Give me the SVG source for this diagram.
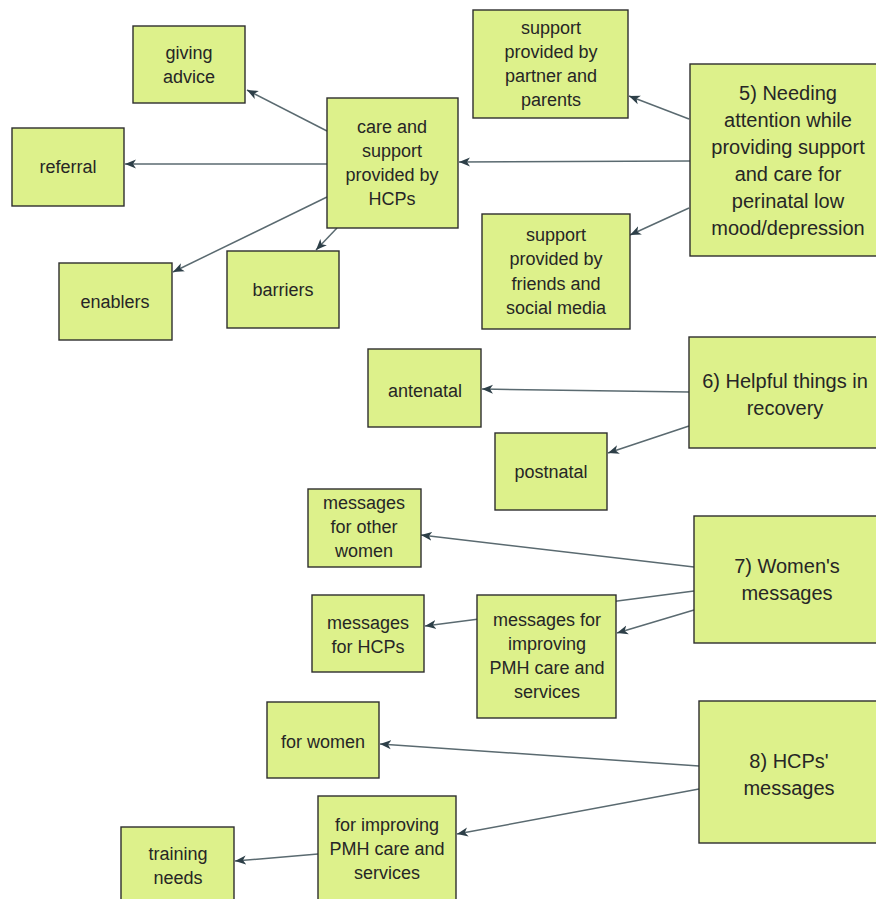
<svg xmlns="http://www.w3.org/2000/svg" width="876" height="899" viewBox="0 0 876 899">
  <style>
    .box { fill: #ddf18b; stroke: #2e2e2e; stroke-width: 1.4; }
    .t { font-family: "Liberation Sans", Arial, sans-serif; font-size: 18px; fill: #262626; text-anchor: middle; }
    .tl { font-size: 20px; }
    .c { stroke: #5a6a70; stroke-width: 1.5; fill: none; marker-end: url(#arr); }
  </style>
  <defs>
    <marker id="arr" markerUnits="userSpaceOnUse" markerWidth="12" markerHeight="10" refX="11" refY="5" orient="auto">
      <path d="M0,0.5 L11,5 L0,9.5 L3,5 z" fill="#2d3f48"/>
    </marker>
  </defs>
  <rect width="876" height="899" fill="#ffffff"/>

  <!-- connectors, drawn first so boxes sit on top -->
  <g id="connectors">
    <line class="c" x1="327" y1="131" x2="247" y2="90"/>
    <line class="c" x1="327" y1="164" x2="125" y2="164"/>
    <line class="c" x1="327" y1="197" x2="173" y2="272"/>
    <line class="c" x1="337" y1="228" x2="316" y2="250"/>
    <line class="c" x1="690" y1="161" x2="459" y2="162"/>
    <line class="c" x1="689" y1="119" x2="629" y2="96"/>
    <line class="c" x1="689" y1="208" x2="630" y2="235"/>
    <line class="c" x1="689" y1="392" x2="482" y2="389"/>
    <line class="c" x1="689" y1="426" x2="608" y2="453"/>
    <line class="c" x1="694" y1="567" x2="421" y2="535"/>
    <line class="c" x1="694" y1="591" x2="425" y2="626"/>
    <line class="c" x1="694" y1="610" x2="617" y2="633"/>
    <line class="c" x1="699" y1="766" x2="380" y2="744"/>
    <line class="c" x1="699" y1="789" x2="457" y2="834"/>
    <line class="c" x1="318" y1="854" x2="235" y2="861"/>
  </g>

  <g id="giving-advice">
    <rect class="box" x="133" y="26" width="112" height="77"/>
    <text class="t" x="189" y="59">giving</text>
    <text class="t" x="189" y="83">advice</text>
  </g>
  <g id="referral">
    <rect class="box" x="12" y="128" width="112" height="78"/>
    <text class="t" x="68" y="173">referral</text>
  </g>
  <g id="care-hcps">
    <rect class="box" x="327" y="98" width="131" height="130"/>
    <text class="t" x="392" y="133">care and</text>
    <text class="t" x="392" y="157">support</text>
    <text class="t" x="392" y="181">provided by</text>
    <text class="t" x="392" y="205">HCPs</text>
  </g>
  <g id="enablers">
    <rect class="box" x="59" y="263" width="113" height="77"/>
    <text class="t" x="115" y="308">enablers</text>
  </g>
  <g id="barriers">
    <rect class="box" x="227" y="251" width="112" height="77"/>
    <text class="t" x="283" y="296">barriers</text>
  </g>
  <g id="partner-parents">
    <rect class="box" x="473" y="10" width="155" height="108"/>
    <text class="t" x="551" y="34">support</text>
    <text class="t" x="551" y="58">provided by</text>
    <text class="t" x="551" y="82">partner and</text>
    <text class="t" x="551" y="106">parents</text>
  </g>
  <g id="theme-5">
    <rect class="box" x="690" y="64" width="196" height="192"/>
    <text class="t tl" x="788" y="100">5) Needing</text>
    <text class="t tl" x="788" y="127">attention while</text>
    <text class="t tl" x="788" y="154">providing support</text>
    <text class="t tl" x="788" y="181">and care for</text>
    <text class="t tl" x="788" y="208">perinatal low</text>
    <text class="t tl" x="788" y="235">mood/depression</text>
  </g>
  <g id="friends-social">
    <rect class="box" x="482" y="214" width="148" height="115"/>
    <text class="t" x="556" y="241">support</text>
    <text class="t" x="556" y="265">provided by</text>
    <text class="t" x="556" y="290">friends and</text>
    <text class="t" x="556" y="314">social media</text>
  </g>
  <g id="antenatal">
    <rect class="box" x="368" y="349" width="113" height="78"/>
    <text class="t" x="425" y="397">antenatal</text>
  </g>
  <g id="theme-6">
    <rect class="box" x="689" y="337" width="197" height="111"/>
    <text class="t tl" x="785" y="388">6) Helpful things in</text>
    <text class="t tl" x="785" y="415">recovery</text>
  </g>
  <g id="postnatal">
    <rect class="box" x="495" y="433" width="112" height="77"/>
    <text class="t" x="551" y="478">postnatal</text>
  </g>
  <g id="other-women">
    <rect class="box" x="308" y="489" width="113" height="78"/>
    <text class="t" x="364" y="509">messages</text>
    <text class="t" x="364" y="533">for other</text>
    <text class="t" x="364" y="557">women</text>
  </g>
  <g id="theme-7">
    <rect class="box" x="694" y="516" width="192" height="127"/>
    <text class="t tl" x="787" y="573">7) Women's</text>
    <text class="t tl" x="787" y="600">messages</text>
  </g>
  <g id="messages-hcps">
    <rect class="box" x="312" y="595" width="112" height="77"/>
    <text class="t" x="368" y="629">messages</text>
    <text class="t" x="368" y="653">for HCPs</text>
  </g>
  <g id="messages-improving">
    <rect class="box" x="477" y="595" width="139" height="123"/>
    <text class="t" x="547" y="626">messages for</text>
    <text class="t" x="547" y="650">improving</text>
    <text class="t" x="547" y="674">PMH care and</text>
    <text class="t" x="547" y="698">services</text>
  </g>
  <g id="for-women">
    <rect class="box" x="267" y="702" width="112" height="76"/>
    <text class="t" x="323" y="748">for women</text>
  </g>
  <g id="theme-8">
    <rect class="box" x="699" y="701" width="187" height="142"/>
    <text class="t tl" x="789" y="768">8) HCPs'</text>
    <text class="t tl" x="789" y="795">messages</text>
  </g>
  <g id="improving-pmh">
    <rect class="box" x="318" y="796" width="138" height="110"/>
    <text class="t" x="387" y="831">for improving</text>
    <text class="t" x="387" y="855">PMH care and</text>
    <text class="t" x="387" y="879">services</text>
  </g>
  <g id="training-needs">
    <rect class="box" x="121" y="827" width="113" height="80"/>
    <text class="t" x="178" y="860">training</text>
    <text class="t" x="178" y="884">needs</text>
  </g>
</svg>
